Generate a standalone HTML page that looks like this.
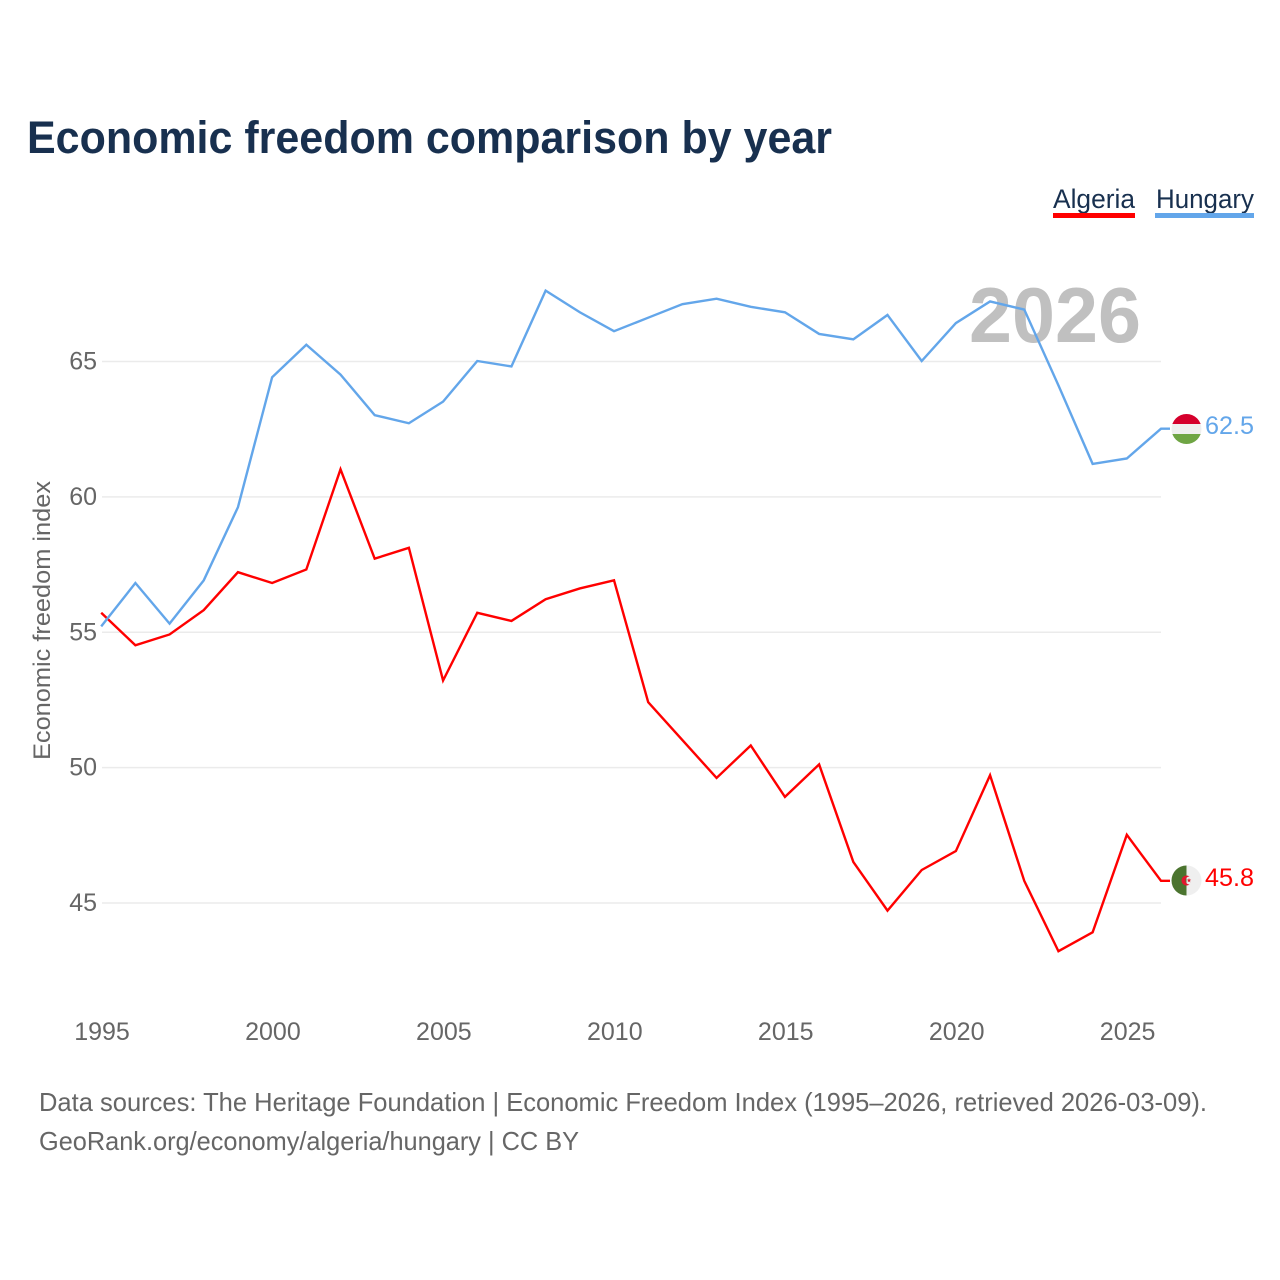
<!DOCTYPE html>
<html lang="en">
<head>
<meta charset="utf-8">
<title>Economic freedom comparison by year</title>
<style>
html,body{margin:0;padding:0;background:#fff;}
svg{display:block;font-family:"Liberation Sans",sans-serif;}
text{font-family:"Liberation Sans",sans-serif;}
</style>
</head>
<body>
<svg id="chart" xmlns="http://www.w3.org/2000/svg" width="1280" height="1280" viewBox="0 0 1280 1280">
  <rect width="1280" height="1280" fill="#fff"/>
  <text x="27" y="153" font-size="45" font-weight="700" fill="#18304f" textLength="805" lengthAdjust="spacingAndGlyphs">Economic freedom comparison by year</text>

  <g>
    <text x="1053" y="208" font-size="27" fill="#18304f" textLength="82" lengthAdjust="spacingAndGlyphs">Algeria</text>
    <rect x="1053" y="213" width="82" height="5" fill="#ff0000"/>
  </g>
  <g>
    <text x="1156" y="208" font-size="27" fill="#18304f" textLength="98" lengthAdjust="spacingAndGlyphs">Hungary</text>
    <rect x="1155" y="213" width="99" height="5" fill="#63a6ea"/>
  </g>

  <text x="969" y="342" font-size="78" font-weight="700" fill="#c0c0c0" textLength="172" lengthAdjust="spacingAndGlyphs">2026</text>

  <g id="grid"></g>
  <g id="yticks"></g>
  <g id="xticks"></g>

  <text transform="translate(50,760) rotate(-90)" font-size="24" fill="#666" textLength="279" lengthAdjust="spacingAndGlyphs">Economic freedom index</text>

  <g id="lines"></g>

  <defs>
    <clipPath id="clip-hu"><circle cx="1186.5" cy="429" r="15"/></clipPath>
    <clipPath id="clip-dz"><circle cx="1186.5" cy="880.5" r="15"/></clipPath>
  </defs>
  <g id="flag-hungary" clip-path="url(#clip-hu)">
    <rect x="1171" y="413" width="31" height="11" fill="#d5002c"/>
    <rect x="1171" y="424" width="31" height="10" fill="#efefef"/>
    <rect x="1171" y="434" width="31" height="11" fill="#6fa544"/>
  </g>
  <g id="flag-algeria" clip-path="url(#clip-dz)">
    <rect x="1171" y="865" width="15.5" height="31" fill="#4b742f"/>
    <rect x="1186.5" y="865" width="15.5" height="31" fill="#efefef"/>
    <path d="M1189.5 876.5A5 5 0 1 0 1189.5 884.5A4 4 0 1 1 1189.5 876.5Z" fill="#e2172d"/>
    <polygon points="1189,878 1189.6,879.6 1191.2,879.6 1189.9,880.7 1190.4,882.4 1189,881.4 1187.6,882.4 1188.1,880.7 1186.8,879.6 1188.4,879.6" fill="#e2172d"/>
  </g>

  <text id="end-label-hungary" x="1205" y="434" font-size="25" fill="#63a6ea" textLength="49" lengthAdjust="spacingAndGlyphs"></text>
  <text id="end-label-algeria" x="1205" y="886" font-size="25" fill="#ff0000" textLength="49" lengthAdjust="spacingAndGlyphs"></text>

  <text x="39" y="1111" font-size="26" fill="#666" textLength="1168" lengthAdjust="spacingAndGlyphs">Data sources: The Heritage Foundation | Economic Freedom Index (1995–2026, retrieved 2026-03-09).</text>
  <text x="39" y="1150" font-size="26" fill="#666" textLength="540" lengthAdjust="spacingAndGlyphs">GeoRank.org/economy/algeria/hungary | CC BY</text>
</svg>
<script>
const years = [1995,1996,1997,1998,1999,2000,2001,2002,2003,2004,2005,2006,2007,2008,2009,2010,2011,2012,2013,2014,2015,2016,2017,2018,2019,2020,2021,2022,2023,2024,2025,2026];
const algeria = [55.7,54.5,54.9,55.8,57.2,56.8,57.3,61.0,57.7,58.1,53.2,55.7,55.4,56.2,56.6,56.9,52.4,51.0,49.6,50.8,48.9,50.1,46.5,44.7,46.2,46.9,49.7,45.8,43.2,43.9,47.5,45.8];
const hungary = [55.2,56.8,55.3,56.9,59.6,64.4,65.6,64.5,63.0,62.7,63.5,65.0,64.8,67.6,66.8,66.1,66.6,67.1,67.3,67.0,66.8,66.0,65.8,66.7,65.0,66.4,67.2,66.9,64.1,61.2,61.4,62.5];
const yTickValues = [45,50,55,60,65];
const xTickValues = [1995,2000,2005,2010,2015,2020,2025];

const SVG_NS = 'http://www.w3.org/2000/svg';
function xScale(year){ return 101.2 + (year - 1995) * (1161 - 101.2) / 31; }
function yScale(value){ return 903 - (value - 45) * (903 - 361.5) / 20; }
// The reference's lines sit a fraction of a pixel above the gridline scale.
const LINE_OFFSET_Y = -0.5;
// Horizontal connector from the last point to the flag.
const END_STUB = 9;

const gridGroup = document.getElementById('grid');
const yTickGroup = document.getElementById('yticks');
yTickValues.forEach(function(v){
  const line = document.createElementNS(SVG_NS, 'line');
  
  
  line.setAttribute('x1', 102);
  line.setAttribute('x2', 1161);
  line.setAttribute('y1', yScale(v));
  line.setAttribute('y2', yScale(v));
  line.setAttribute('stroke', '#ebebeb');
  line.setAttribute('stroke-width', 1.5);
  gridGroup.appendChild(line);
  const label = document.createElementNS(SVG_NS, 'text');
  
  
  label.setAttribute('x', 97);
  label.setAttribute('y', yScale(v) + 8);
  label.setAttribute('text-anchor', 'end');
  label.setAttribute('font-size', 25);
  label.setAttribute('fill', '#666');
  label.textContent = v;
  yTickGroup.appendChild(label);
});

const xTickGroup = document.getElementById('xticks');
xTickValues.forEach(function(y){
  const label = document.createElementNS(SVG_NS, 'text');
  
  
  label.setAttribute('x', xScale(y) + 0.8);
  label.setAttribute('y', 1040);
  label.setAttribute('text-anchor', 'middle');
  label.setAttribute('font-size', 25);
  label.setAttribute('fill', '#666');
  label.textContent = y;
  xTickGroup.appendChild(label);
});

function pathFor(values){
  return values.map(function(v, i){
    return (i ? 'L' : 'M') + xScale(years[i]).toFixed(2) + ' ' + (yScale(v) + LINE_OFFSET_Y).toFixed(2);
  }).join(' ') + ' h' + END_STUB;
}
const lineGroup = document.getElementById('lines');

const algeriaLine = document.createElementNS(SVG_NS, 'path');


algeriaLine.setAttribute('d', pathFor(algeria));
algeriaLine.setAttribute('fill', 'none');
algeriaLine.setAttribute('stroke', '#ff0000');
algeriaLine.setAttribute('stroke-width', 2.4);
lineGroup.appendChild(algeriaLine);

const hungaryLine = document.createElementNS(SVG_NS, 'path');


hungaryLine.setAttribute('d', pathFor(hungary));
hungaryLine.setAttribute('fill', 'none');
hungaryLine.setAttribute('stroke', '#63a6ea');
hungaryLine.setAttribute('stroke-width', 2.4);
lineGroup.appendChild(hungaryLine);

document.getElementById('end-label-hungary').textContent = hungary[hungary.length - 1].toFixed(1);
document.getElementById('end-label-algeria').textContent = algeria[algeria.length - 1].toFixed(1);
</script>
</body>
</html>
